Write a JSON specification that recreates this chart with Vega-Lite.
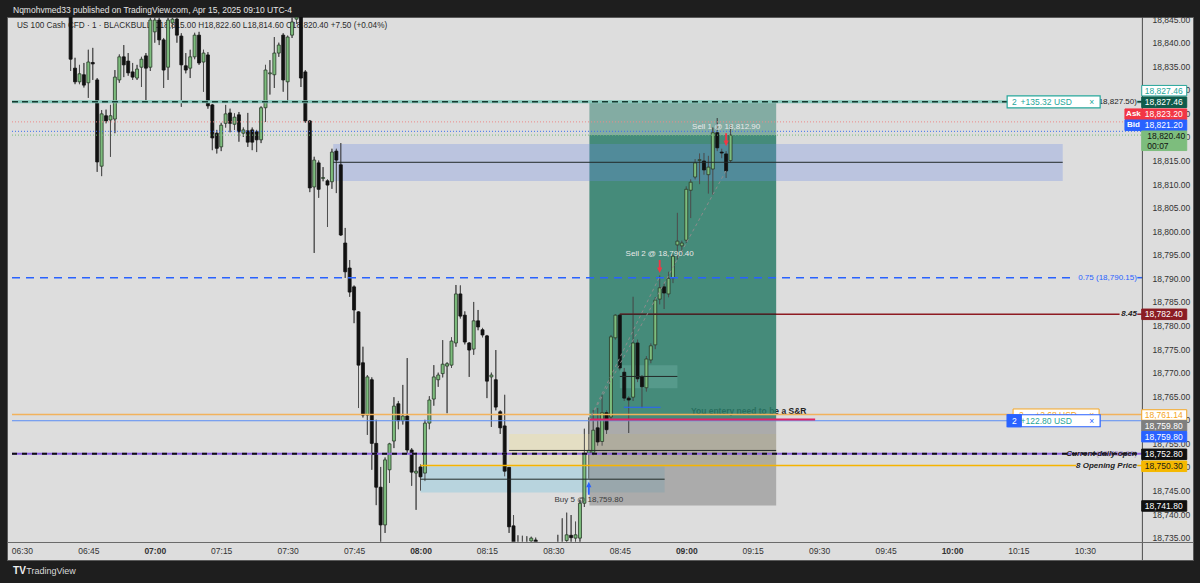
{
"$schema": "https://vega.github.io/schema/vega-lite/v6.json",
"width": 1186, "height": 543,
"autosize": {"type": "none"},
"padding": {"left": 7, "top": 17, "right": 7, "bottom": 23},
"background": "#1e1e1e",
"config": {"view": {"fill": "#dddddd", "stroke": "#5a5a5a", "strokeWidth": 1}, "font": "Liberation Sans", "text": {"font": "Liberation Sans"}, "axis": {"labelFont": "Liberation Sans", "grid": false, "ticks": false}},
"resolve": {"scale": {"fill": "independent", "stroke": "independent", "color": "independent"}, "axis": {"x": "independent", "y": "independent"}},
"datasets": {
"candles": [
{"t":"2025-04-15T06:41","o":18846.0,"h":18848.5,"l":18834.0,"c":18836.5},
{"t":"2025-04-15T06:42","o":18834.6,"h":18836.8,"l":18831.2,"c":18831.7},
{"t":"2025-04-15T06:43","o":18831.7,"h":18835.3,"l":18831.2,"c":18833.4},
{"t":"2025-04-15T06:44","o":18833.2,"h":18835.7,"l":18830.5,"c":18831.0},
{"t":"2025-04-15T06:45","o":18831.5,"h":18838.5,"l":18828.3,"c":18835.9},
{"t":"2025-04-15T06:46","o":18835.8,"h":18838.9,"l":18832.1,"c":18835.5},
{"t":"2025-04-15T06:47","o":18832.1,"h":18832.5,"l":18812.6,"c":18814.7},
{"t":"2025-04-15T06:48","o":18813.8,"h":18825.7,"l":18811.7,"c":18824.9},
{"t":"2025-04-15T06:49","o":18824.5,"h":18825.8,"l":18822.9,"c":18823.4},
{"t":"2025-04-15T06:50","o":18823.6,"h":18826.8,"l":18815.8,"c":18824.5},
{"t":"2025-04-15T06:51","o":18823.8,"h":18834.2,"l":18820.8,"c":18832.7},
{"t":"2025-04-15T06:52","o":18832.1,"h":18837.5,"l":18831.5,"c":18837.0},
{"t":"2025-04-15T06:53","o":18837.0,"h":18839.5,"l":18832.7,"c":18835.3},
{"t":"2025-04-15T06:54","o":18836.1,"h":18837.8,"l":18833.0,"c":18833.6},
{"t":"2025-04-15T06:55","o":18833.8,"h":18835.7,"l":18832.1,"c":18832.7},
{"t":"2025-04-15T06:56","o":18832.5,"h":18835.3,"l":18832.1,"c":18834.4},
{"t":"2025-04-15T06:57","o":18834.8,"h":18837.0,"l":18830.6,"c":18836.5},
{"t":"2025-04-15T06:58","o":18837.2,"h":18837.8,"l":18827.8,"c":18834.6},
{"t":"2025-04-15T06:59","o":18834.8,"h":18847.0,"l":18834.0,"c":18844.8},
{"t":"2025-04-15T07:00","o":18842.3,"h":18846.5,"l":18840.0,"c":18844.8},
{"t":"2025-04-15T07:01","o":18844.8,"h":18846.0,"l":18839.5,"c":18840.6},
{"t":"2025-04-15T07:02","o":18840.6,"h":18841.0,"l":18830.4,"c":18834.2},
{"t":"2025-04-15T07:03","o":18834.8,"h":18846.0,"l":18832.1,"c":18844.8},
{"t":"2025-04-15T07:04","o":18844.2,"h":18846.0,"l":18843.0,"c":18845.0},
{"t":"2025-04-15T07:05","o":18845.0,"h":18846.5,"l":18840.0,"c":18841.6},
{"t":"2025-04-15T07:06","o":18841.4,"h":18842.0,"l":18826.4,"c":18835.3},
{"t":"2025-04-15T07:07","o":18835.1,"h":18837.8,"l":18833.5,"c":18834.2},
{"t":"2025-04-15T07:08","o":18834.6,"h":18838.5,"l":18832.5,"c":18837.0},
{"t":"2025-04-15T07:09","o":18837.0,"h":18842.1,"l":18836.5,"c":18841.6},
{"t":"2025-04-15T07:10","o":18841.6,"h":18842.3,"l":18835.3,"c":18835.7},
{"t":"2025-04-15T07:11","o":18835.9,"h":18838.5,"l":18829.6,"c":18837.8},
{"t":"2025-04-15T07:12","o":18837.4,"h":18838.0,"l":18826.0,"c":18826.6},
{"t":"2025-04-15T07:13","o":18826.8,"h":18827.0,"l":18817.2,"c":18819.8},
{"t":"2025-04-15T07:14","o":18820.8,"h":18821.5,"l":18816.5,"c":18817.6},
{"t":"2025-04-15T07:15","o":18817.9,"h":18823.0,"l":18817.0,"c":18822.5},
{"t":"2025-04-15T07:16","o":18822.9,"h":18826.8,"l":18822.0,"c":18824.9},
{"t":"2025-04-15T07:17","o":18825.1,"h":18826.0,"l":18821.0,"c":18822.9},
{"t":"2025-04-15T07:18","o":18822.7,"h":18825.0,"l":18821.5,"c":18824.2},
{"t":"2025-04-15T07:19","o":18824.7,"h":18825.3,"l":18819.0,"c":18821.1},
{"t":"2025-04-15T07:20","o":18820.8,"h":18822.0,"l":18820.0,"c":18821.5},
{"t":"2025-04-15T07:21","o":18821.3,"h":18825.1,"l":18817.9,"c":18818.9},
{"t":"2025-04-15T07:22","o":18821.5,"h":18822.0,"l":18817.2,"c":18818.9},
{"t":"2025-04-15T07:23","o":18821.1,"h":18821.5,"l":18816.8,"c":18819.4},
{"t":"2025-04-15T07:24","o":18819.4,"h":18826.5,"l":18818.7,"c":18826.2},
{"t":"2025-04-15T07:25","o":18826.2,"h":18835.3,"l":18823.2,"c":18834.2},
{"t":"2025-04-15T07:26","o":18833.4,"h":18836.3,"l":18829.0,"c":18833.6},
{"t":"2025-04-15T07:27","o":18833.2,"h":18841.2,"l":18830.4,"c":18837.8},
{"t":"2025-04-15T07:28","o":18837.8,"h":18840.0,"l":18837.0,"c":18839.5},
{"t":"2025-04-15T07:29","o":18841.6,"h":18842.0,"l":18829.6,"c":18832.1},
{"t":"2025-04-15T07:30","o":18831.7,"h":18841.5,"l":18827.4,"c":18841.2},
{"t":"2025-04-15T07:31","o":18841.6,"h":18846.0,"l":18841.0,"c":18844.4},
{"t":"2025-04-15T07:32","o":18845.0,"h":18846.5,"l":18844.0,"c":18845.4},
{"t":"2025-04-15T07:33","o":18845.5,"h":18847.0,"l":18830.6,"c":18832.5},
{"t":"2025-04-15T07:34","o":18833.8,"h":18834.2,"l":18823.0,"c":18823.4},
{"t":"2025-04-15T07:35","o":18823.4,"h":18823.6,"l":18808.3,"c":18809.2},
{"t":"2025-04-15T07:36","o":18809.4,"h":18815.8,"l":18795.4,"c":18815.1},
{"t":"2025-04-15T07:37","o":18814.5,"h":18815.0,"l":18807.1,"c":18808.9},
{"t":"2025-04-15T07:38","o":18811.2,"h":18813.6,"l":18810.6,"c":18811.4},
{"t":"2025-04-15T07:39","o":18810.7,"h":18811.0,"l":18800.9,"c":18809.8},
{"t":"2025-04-15T07:40","o":18810.5,"h":18817.5,"l":18809.0,"c":18816.8},
{"t":"2025-04-15T07:41","o":18817.0,"h":18817.5,"l":18808.1,"c":18815.1},
{"t":"2025-04-15T07:42","o":18814.1,"h":18818.7,"l":18799.0,"c":18799.2},
{"t":"2025-04-15T07:43","o":18797.5,"h":18800.7,"l":18790.1,"c":18791.4},
{"t":"2025-04-15T07:44","o":18792.2,"h":18793.9,"l":18786.1,"c":18787.1},
{"t":"2025-04-15T07:45","o":18788.2,"h":18788.5,"l":18780.5,"c":18783.3},
{"t":"2025-04-15T07:46","o":18782.9,"h":18783.0,"l":18762.5,"c":18771.6},
{"t":"2025-04-15T07:47","o":18772.1,"h":18775.5,"l":18760.5,"c":18761.0},
{"t":"2025-04-15T07:48","o":18761.0,"h":18769.5,"l":18756.8,"c":18769.1},
{"t":"2025-04-15T07:49","o":18768.5,"h":18769.0,"l":18749.4,"c":18755.0},
{"t":"2025-04-15T07:50","o":18755.0,"h":18760.0,"l":18741.9,"c":18745.7},
{"t":"2025-04-15T07:51","o":18745.7,"h":18750.0,"l":18734.0,"c":18737.7},
{"t":"2025-04-15T07:52","o":18737.7,"h":18752.0,"l":18736.0,"c":18751.5},
{"t":"2025-04-15T07:53","o":18749.4,"h":18755.1,"l":18746.6,"c":18754.9},
{"t":"2025-04-15T07:54","o":18755.5,"h":18764.8,"l":18754.0,"c":18762.9},
{"t":"2025-04-15T07:55","o":18763.4,"h":18764.0,"l":18758.0,"c":18759.8},
{"t":"2025-04-15T07:56","o":18759.8,"h":18767.4,"l":18759.0,"c":18760.8},
{"t":"2025-04-15T07:57","o":18760.8,"h":18773.1,"l":18753.0,"c":18753.6},
{"t":"2025-04-15T07:58","o":18753.6,"h":18754.0,"l":18746.0,"c":18748.9},
{"t":"2025-04-15T07:59","o":18748.7,"h":18753.0,"l":18740.9,"c":18749.1},
{"t":"2025-04-15T08:00","o":18750.0,"h":18750.5,"l":18745.0,"c":18747.9},
{"t":"2025-04-15T08:01","o":18748.7,"h":18760.0,"l":18747.0,"c":18759.3},
{"t":"2025-04-15T08:02","o":18759.3,"h":18765.0,"l":18758.0,"c":18764.2},
{"t":"2025-04-15T08:03","o":18764.4,"h":18771.6,"l":18763.0,"c":18769.1},
{"t":"2025-04-15T08:04","o":18768.5,"h":18770.0,"l":18767.0,"c":18769.5},
{"t":"2025-04-15T08:05","o":18769.8,"h":18776.9,"l":18769.0,"c":18771.8},
{"t":"2025-04-15T08:06","o":18771.4,"h":18772.2,"l":18761.4,"c":18771.9},
{"t":"2025-04-15T08:07","o":18771.6,"h":18777.5,"l":18771.0,"c":18776.7},
{"t":"2025-04-15T08:08","o":18776.3,"h":18788.6,"l":18775.5,"c":18786.7},
{"t":"2025-04-15T08:09","o":18786.7,"h":18788.5,"l":18781.5,"c":18782.0},
{"t":"2025-04-15T08:10","o":18782.2,"h":18783.0,"l":18776.0,"c":18776.5},
{"t":"2025-04-15T08:11","o":18776.3,"h":18776.5,"l":18769.1,"c":18774.8},
{"t":"2025-04-15T08:12","o":18775.0,"h":18785.0,"l":18773.8,"c":18781.0},
{"t":"2025-04-15T08:13","o":18781.0,"h":18783.3,"l":18779.0,"c":18779.7},
{"t":"2025-04-15T08:14","o":18779.1,"h":18779.5,"l":18777.5,"c":18778.0},
{"t":"2025-04-15T08:15","o":18777.8,"h":18778.0,"l":18764.6,"c":18768.2},
{"t":"2025-04-15T08:16","o":18769.1,"h":18770.0,"l":18758.5,"c":18769.5},
{"t":"2025-04-15T08:17","o":18768.5,"h":18774.8,"l":18762.0,"c":18762.7},
{"t":"2025-04-15T08:18","o":18761.7,"h":18762.0,"l":18757.0,"c":18758.3},
{"t":"2025-04-15T08:19","o":18758.7,"h":18765.3,"l":18748.0,"c":18749.1},
{"t":"2025-04-15T08:20","o":18749.9,"h":18750.0,"l":18736.0,"c":18737.3},
{"t":"2025-04-15T08:21","o":18737.5,"h":18739.8,"l":18731.0,"c":18732.5},
{"t":"2025-04-15T08:22","o":18733.0,"h":18735.5,"l":18728.0,"c":18731.0},
{"t":"2025-04-15T08:23","o":18731.5,"h":18735.4,"l":18729.0,"c":18733.0},
{"t":"2025-04-15T08:24","o":18733.0,"h":18735.3,"l":18729.0,"c":18732.0},
{"t":"2025-04-15T08:25","o":18734.3,"h":18735.2,"l":18732.0,"c":18734.9},
{"t":"2025-04-15T08:26","o":18734.5,"h":18735.0,"l":18731.0,"c":18733.5},
{"t":"2025-04-15T08:27","o":18733.0,"h":18733.5,"l":18729.0,"c":18730.5},
{"t":"2025-04-15T08:28","o":18730.5,"h":18732.5,"l":18728.5,"c":18731.5},
{"t":"2025-04-15T08:29","o":18731.5,"h":18733.0,"l":18729.5,"c":18730.0},
{"t":"2025-04-15T08:30","o":18730.0,"h":18733.5,"l":18729.0,"c":18732.5},
{"t":"2025-04-15T08:31","o":18732.0,"h":18735.6,"l":18730.0,"c":18733.8},
{"t":"2025-04-15T08:32","o":18733.8,"h":18739.1,"l":18731.0,"c":18733.0},
{"t":"2025-04-15T08:33","o":18734.4,"h":18740.3,"l":18733.0,"c":18735.6},
{"t":"2025-04-15T08:34","o":18735.5,"h":18739.8,"l":18733.0,"c":18735.0},
{"t":"2025-04-15T08:35","o":18734.9,"h":18738.4,"l":18734.0,"c":18735.6},
{"t":"2025-04-15T08:36","o":18734.9,"h":18743.0,"l":18734.0,"c":18742.3},
{"t":"2025-04-15T08:37","o":18742.3,"h":18758.1,"l":18741.5,"c":18752.9},
{"t":"2025-04-15T08:38","o":18752.9,"h":18760.5,"l":18747.5,"c":18753.5},
{"t":"2025-04-15T08:39","o":18753.0,"h":18762.1,"l":18752.5,"c":18757.8},
{"t":"2025-04-15T08:40","o":18758.3,"h":18762.5,"l":18754.5,"c":18755.3},
{"t":"2025-04-15T08:41","o":18755.4,"h":18765.3,"l":18754.5,"c":18761.5},
{"t":"2025-04-15T08:42","o":18761.5,"h":18762.0,"l":18757.0,"c":18757.9},
{"t":"2025-04-15T08:43","o":18760.6,"h":18778.0,"l":18760.0,"c":18777.6},
{"t":"2025-04-15T08:44","o":18777.4,"h":18782.4,"l":18777.0,"c":18782.2},
{"t":"2025-04-15T08:45","o":18782.2,"h":18782.4,"l":18770.5,"c":18771.0},
{"t":"2025-04-15T08:46","o":18770.1,"h":18771.0,"l":18764.0,"c":18764.6},
{"t":"2025-04-15T08:47","o":18764.6,"h":18765.0,"l":18757.2,"c":18764.2},
{"t":"2025-04-15T08:48","o":18764.8,"h":18786.1,"l":18764.0,"c":18776.3},
{"t":"2025-04-15T08:49","o":18776.3,"h":18777.0,"l":18768.0,"c":18768.7},
{"t":"2025-04-15T08:50","o":18769.1,"h":18769.5,"l":18762.5,"c":18767.0},
{"t":"2025-04-15T08:51","o":18766.8,"h":18773.5,"l":18766.0,"c":18772.9},
{"t":"2025-04-15T08:52","o":18772.7,"h":18776.2,"l":18772.0,"c":18775.7},
{"t":"2025-04-15T08:53","o":18775.9,"h":18786.0,"l":18775.0,"c":18785.4},
{"t":"2025-04-15T08:54","o":18785.6,"h":18790.6,"l":18784.5,"c":18788.0},
{"t":"2025-04-15T08:55","o":18788.2,"h":18789.0,"l":18783.5,"c":18786.9},
{"t":"2025-04-15T08:56","o":18786.7,"h":18791.4,"l":18786.0,"c":18790.0},
{"t":"2025-04-15T08:57","o":18790.1,"h":18795.0,"l":18789.0,"c":18794.7},
{"t":"2025-04-15T08:58","o":18797.1,"h":18803.9,"l":18794.0,"c":18797.9},
{"t":"2025-04-15T08:59","o":18796.9,"h":18798.0,"l":18795.0,"c":18797.5},
{"t":"2025-04-15T09:00","o":18798.1,"h":18809.5,"l":18797.5,"c":18808.9},
{"t":"2025-04-15T09:01","o":18808.7,"h":18811.0,"l":18802.8,"c":18810.4},
{"t":"2025-04-15T09:02","o":18811.5,"h":18815.3,"l":18811.0,"c":18814.5},
{"t":"2025-04-15T09:03","o":18815.0,"h":18816.5,"l":18810.0,"c":18815.2},
{"t":"2025-04-15T09:04","o":18814.9,"h":18816.6,"l":18812.0,"c":18813.0},
{"t":"2025-04-15T09:05","o":18812.0,"h":18816.0,"l":18808.0,"c":18813.6},
{"t":"2025-04-15T09:06","o":18813.2,"h":18822.0,"l":18807.7,"c":18820.9},
{"t":"2025-04-15T09:07","o":18820.9,"h":18824.0,"l":18817.0,"c":18817.7},
{"t":"2025-04-15T09:08","o":18816.8,"h":18817.5,"l":18815.5,"c":18816.6},
{"t":"2025-04-15T09:09","o":18816.4,"h":18817.0,"l":18811.3,"c":18812.8},
{"t":"2025-04-15T09:10","o":18815.0,"h":18822.6,"l":18814.6,"c":18820.4}
]},
"layer": [
{"data":{"name":"candles"},
 "mark":{"type":"rule","color":"#505050","strokeWidth":1,"clip":true},
 "encoding":{"x":{"field":"t","type":"temporal","scale":{"domain":[{"year":2025,"month":4,"date":15,"hours":6,"minutes":27,"seconds":46},{"year":2025,"month":4,"date":15,"hours":10,"minutes":53,"seconds":17}]},
   "axis":{"orient":"bottom","offset":-18,"values":[{"year":2025,"month":4,"date":15,"hours":6,"minutes":30},{"year":2025,"month":4,"date":15,"hours":6,"minutes":45},{"year":2025,"month":4,"date":15,"hours":7,"minutes":0},{"year":2025,"month":4,"date":15,"hours":7,"minutes":15},{"year":2025,"month":4,"date":15,"hours":7,"minutes":30},{"year":2025,"month":4,"date":15,"hours":7,"minutes":45},{"year":2025,"month":4,"date":15,"hours":8,"minutes":0},{"year":2025,"month":4,"date":15,"hours":8,"minutes":15},{"year":2025,"month":4,"date":15,"hours":8,"minutes":30},{"year":2025,"month":4,"date":15,"hours":8,"minutes":45},{"year":2025,"month":4,"date":15,"hours":9,"minutes":0},{"year":2025,"month":4,"date":15,"hours":9,"minutes":15},{"year":2025,"month":4,"date":15,"hours":9,"minutes":30},{"year":2025,"month":4,"date":15,"hours":9,"minutes":45},{"year":2025,"month":4,"date":15,"hours":10,"minutes":0},{"year":2025,"month":4,"date":15,"hours":10,"minutes":15},{"year":2025,"month":4,"date":15,"hours":10,"minutes":30}],"format":"%H:%M","labelFontWeight":{"condition":{"test":"minutes(datum.value) === 0","value":"bold"},"value":"normal"},"grid":false,"ticks":false,"tickSize":0,"labelPadding":4,"labelFontSize":8.5,"labelColor":"#333333","domainColor":"#6a6a6a","title":null,"labelFlush":false,"labelOverlap":false,"zindex":1}},
  "y":{"field":"l","type":"quantitative","scale":{"domain":[18730.26,18845.45],"nice":false,"zero":false},
   "axis":{"orient":"right","offset":-46,"values":[18735,18740,18745,18750,18755,18760,18765,18770,18775,18780,18785,18790,18795,18800,18805,18810,18815,18820,18825,18830,18835,18840,18845],"format":",.2f","grid":false,"ticks":false,"tickSize":0,"domain":false,"labelPadding":5,"labelAlign":"left","labelBaseline":"middle","labelFontSize":8.5,"labelColor":"#333333","title":null,"labelOverlap":false,"labelFlush":false,"zindex":0}},
  "y2":{"field":"h"}}},
{"data":{"values":[{"t":"2025-04-15T06:28:53","p":18843.54,"label":"US 100 Cash CFD · 1 · BLACKBULL   O18,815.00  H18,822.60  L18,814.60  C18,820.40  +7.50 (+0.04%)"}]},
 "mark":{"type":"text","fontSize":8.2,"color":"#2b2b2b","baseline":"middle","align":"left"},
 "encoding":{"x":{"field":"t","type":"temporal","scale":{"domain":[{"year":2025,"month":4,"date":15,"hours":6,"minutes":27,"seconds":46},{"year":2025,"month":4,"date":15,"hours":10,"minutes":53,"seconds":17}]},"axis":null},"y":{"field":"p","type":"quantitative","scale":{"domain":[18730.26,18845.45],"nice":false,"zero":false},"axis":null},"text":{"field":"label"}}},
{"data":{"values":[{"t":"2025-04-15T09:01:03","p":18761.87,"label":"You entery need to be a S&R"}]},
 "mark":{"type":"text","align":"left","baseline":"middle","fontSize":8.5,"fontWeight":"bold","color":"#222222"},
 "encoding":{"x":{"field":"t","type":"temporal","scale":{"domain":[{"year":2025,"month":4,"date":15,"hours":6,"minutes":27,"seconds":46},{"year":2025,"month":4,"date":15,"hours":10,"minutes":53,"seconds":17}]},"axis":null},"y":{"field":"p","type":"quantitative","scale":{"domain":[18730.26,18845.45],"nice":false,"zero":false},"axis":null},"text":{"field":"label"}}},
{"data":{"values":[{"t":"2025-04-15T08:20:00","t2":"2025-04-15T09:20:18","p":18750.1,"p2":18757.0}],"format":{"parse":{"t":"date","t2":"date"}}},
 "mark":{"type":"rect","fill":"#e4dec3"},
 "encoding":{"x":{"field":"t","type":"temporal","scale":{"domain":[{"year":2025,"month":4,"date":15,"hours":6,"minutes":27,"seconds":46},{"year":2025,"month":4,"date":15,"hours":10,"minutes":53,"seconds":17}]},"axis":null},"x2":{"field":"t2"},"y":{"field":"p","type":"quantitative","scale":{"domain":[18730.26,18845.45],"nice":false,"zero":false},"axis":null},"y2":{"field":"p2"}}},
{"data":{"values":[{"t":"2025-04-15T08:00:00","t2":"2025-04-15T08:55:07","p":18744.6,"p2":18750.1}],"format":{"parse":{"t":"date","t2":"date"}}},
 "mark":{"type":"rect","fill":"#b8d4de"},
 "encoding":{"x":{"field":"t","type":"temporal","scale":{"domain":[{"year":2025,"month":4,"date":15,"hours":6,"minutes":27,"seconds":46},{"year":2025,"month":4,"date":15,"hours":10,"minutes":53,"seconds":17}]},"axis":null},"x2":{"field":"t2"},"y":{"field":"p","type":"quantitative","scale":{"domain":[18730.26,18845.45],"nice":false,"zero":false},"axis":null},"y2":{"field":"p2"}}},
{"data":{"values":[{"t":"2025-04-15T08:38:08","t2":"2025-04-15T09:20:18","p":18741.8,"p2":18759.8}],"format":{"parse":{"t":"date","t2":"date"}}},
 "mark":{"type":"rect","fill":"#7a7a7a","fillOpacity":0.5},
 "encoding":{"x":{"field":"t","type":"temporal","scale":{"domain":[{"year":2025,"month":4,"date":15,"hours":6,"minutes":27,"seconds":46},{"year":2025,"month":4,"date":15,"hours":10,"minutes":53,"seconds":17}]},"axis":null},"x2":{"field":"t2"},"y":{"field":"p","type":"quantitative","scale":{"domain":[18730.26,18845.45],"nice":false,"zero":false},"axis":null},"y2":{"field":"p2"}}},
{"data":{"values":[{"t":"2025-04-15T08:38:08","t2":"2025-04-15T09:20:18","p":18820.4,"p2":18827.5}],"format":{"parse":{"t":"date","t2":"date"}}},
 "mark":{"type":"rect","fill":"#2a7c69","fillOpacity":0.5},
 "encoding":{"x":{"field":"t","type":"temporal","scale":{"domain":[{"year":2025,"month":4,"date":15,"hours":6,"minutes":27,"seconds":46},{"year":2025,"month":4,"date":15,"hours":10,"minutes":53,"seconds":17}]},"axis":null},"x2":{"field":"t2"},"y":{"field":"p","type":"quantitative","scale":{"domain":[18730.26,18845.45],"nice":false,"zero":false},"axis":null},"y2":{"field":"p2"}}},
{"data":{"values":[{"t":"2025-04-15T08:38:08","t2":"2025-04-15T09:20:18","p":18759.8,"p2":18820.4}],"format":{"parse":{"t":"date","t2":"date"}}},
 "mark":{"type":"rect","fill":"#2a7c69","fillOpacity":0.85},
 "encoding":{"x":{"field":"t","type":"temporal","scale":{"domain":[{"year":2025,"month":4,"date":15,"hours":6,"minutes":27,"seconds":46},{"year":2025,"month":4,"date":15,"hours":10,"minutes":53,"seconds":17}]},"axis":null},"x2":{"field":"t2"},"y":{"field":"p","type":"quantitative","scale":{"domain":[18730.26,18845.45],"nice":false,"zero":false},"axis":null},"y2":{"field":"p2"}}},
{"data":{"values":[{"t":"2025-04-15T08:45:00","t2":"2025-04-15T08:58:00","p":18766.7,"p2":18771.6}],"format":{"parse":{"t":"date","t2":"date"}}},
 "mark":{"type":"rect","fill":"#8cc8c0","fillOpacity":0.25},
 "encoding":{"x":{"field":"t","type":"temporal","scale":{"domain":[{"year":2025,"month":4,"date":15,"hours":6,"minutes":27,"seconds":46},{"year":2025,"month":4,"date":15,"hours":10,"minutes":53,"seconds":17}]},"axis":null},"x2":{"field":"t2"},"y":{"field":"p","type":"quantitative","scale":{"domain":[18730.26,18845.45],"nice":false,"zero":false},"axis":null},"y2":{"field":"p2"}}},
{"data":{"values":[{"t":"2025-04-15T07:40:18","t2":"2025-04-15T10:25:00","p":18810.66,"p2":18818.51}],"format":{"parse":{"t":"date","t2":"date"}}},
 "mark":{"type":"rect","fill":"#6e8ce6","fillOpacity":0.3},
 "encoding":{"x":{"field":"t","type":"temporal","scale":{"domain":[{"year":2025,"month":4,"date":15,"hours":6,"minutes":27,"seconds":46},{"year":2025,"month":4,"date":15,"hours":10,"minutes":53,"seconds":17}]},"axis":null},"x2":{"field":"t2"},"y":{"field":"p","type":"quantitative","scale":{"domain":[18730.26,18845.45],"nice":false,"zero":false},"axis":null},"y2":{"field":"p2"}}},
{"data":{"name":"candles"},
 "mark":{"type":"rule","color":"#505050","strokeWidth":1,"clip":true},
 "encoding":{"x":{"field":"t","type":"temporal","scale":{"domain":[{"year":2025,"month":4,"date":15,"hours":6,"minutes":27,"seconds":46},{"year":2025,"month":4,"date":15,"hours":10,"minutes":53,"seconds":17}]},"axis":null},
  "y":{"field":"l","type":"quantitative","scale":{"domain":[18730.26,18845.45],"nice":false,"zero":false},"axis":null},"y2":{"field":"h"}}},
{"data":{"name":"candles"},
 "mark":{"type":"bar","width":3,"strokeWidth":0.8,"clip":true},
 "encoding":{"x":{"field":"t","type":"temporal","scale":{"domain":[{"year":2025,"month":4,"date":15,"hours":6,"minutes":27,"seconds":46},{"year":2025,"month":4,"date":15,"hours":10,"minutes":53,"seconds":17}]},"axis":null},
  "y":{"field":"o","type":"quantitative","scale":{"domain":[18730.26,18845.45],"nice":false,"zero":false},"axis":null},"y2":{"field":"c"},
  "fill":{"condition":{"test":"datum.c >= datum.o","value":"#7dbd7d"},"value":"#111111"},
  "stroke":{"condition":{"test":"datum.c >= datum.o","value":"#2a3a2a"},"value":"#111111"}}},
{"data":{"values":[{"t":"2025-04-15T06:27:46","t2":"2025-04-15T10:53:17","p":18730.26,"p2":18734.15}],"format":{"parse":{"t":"date","t2":"date"}}},
 "mark":{"type":"rect","fill":"#dddddd"},
 "encoding":{"x":{"field":"t","type":"temporal","scale":{"domain":[{"year":2025,"month":4,"date":15,"hours":6,"minutes":27,"seconds":46},{"year":2025,"month":4,"date":15,"hours":10,"minutes":53,"seconds":17}]},"axis":null},"x2":{"field":"t2"},"y":{"field":"p","type":"quantitative","scale":{"domain":[18730.26,18845.45],"nice":false,"zero":false},"axis":null},"y2":{"field":"p2"}}},
{"data":{"values":[{"t":"2025-04-15T06:27:46","t2":"2025-04-15T10:33:22","p":18827.46},{"t":"2025-04-15T10:41:50","t2":"2025-04-15T10:42:59","p":18827.46}],"format":{"parse":{"t":"date","t2":"date"}}},
 "mark":{"type":"rule","color":"#86c8bb","strokeWidth":3},
 "encoding":{"x":{"field":"t","type":"temporal","scale":{"domain":[{"year":2025,"month":4,"date":15,"hours":6,"minutes":27,"seconds":46},{"year":2025,"month":4,"date":15,"hours":10,"minutes":53,"seconds":17}]},"axis":null},"x2":{"field":"t2"},"y":{"field":"p","type":"quantitative","scale":{"domain":[18730.26,18845.45],"nice":false,"zero":false},"axis":null}}},
{"data":{"values":[{"t":"2025-04-15T06:27:46","t2":"2025-04-15T10:33:22","p":18827.46},{"t":"2025-04-15T10:41:50","t2":"2025-04-15T10:42:59","p":18827.46}],"format":{"parse":{"t":"date","t2":"date"}}},
 "mark":{"type":"rule","color":"#15392f","strokeWidth":1.5,"strokeDash":[6,4]},
 "encoding":{"x":{"field":"t","type":"temporal","scale":{"domain":[{"year":2025,"month":4,"date":15,"hours":6,"minutes":27,"seconds":46},{"year":2025,"month":4,"date":15,"hours":10,"minutes":53,"seconds":17}]},"axis":null},"x2":{"field":"t2"},"y":{"field":"p","type":"quantitative","scale":{"domain":[18730.26,18845.45],"nice":false,"zero":false},"axis":null}}},
{"data":{"values":[{"t":"2025-04-15T06:27:46","t2":"2025-04-15T10:42:59","p":18823.2}],"format":{"parse":{"t":"date","t2":"date"}}},
 "mark":{"type":"rule","color":"#ee8888","strokeWidth":1,"strokeDash":[1,2]},
 "encoding":{"x":{"field":"t","type":"temporal","scale":{"domain":[{"year":2025,"month":4,"date":15,"hours":6,"minutes":27,"seconds":46},{"year":2025,"month":4,"date":15,"hours":10,"minutes":53,"seconds":17}]},"axis":null},"x2":{"field":"t2"},"y":{"field":"p","type":"quantitative","scale":{"domain":[18730.26,18845.45],"nice":false,"zero":false},"axis":null}}},
{"data":{"values":[{"t":"2025-04-15T06:27:46","t2":"2025-04-15T10:42:59","p":18821.2}],"format":{"parse":{"t":"date","t2":"date"}}},
 "mark":{"type":"rule","color":"#3b6ef0","strokeWidth":1,"strokeDash":[1,2]},
 "encoding":{"x":{"field":"t","type":"temporal","scale":{"domain":[{"year":2025,"month":4,"date":15,"hours":6,"minutes":27,"seconds":46},{"year":2025,"month":4,"date":15,"hours":10,"minutes":53,"seconds":17}]},"axis":null},"x2":{"field":"t2"},"y":{"field":"p","type":"quantitative","scale":{"domain":[18730.26,18845.45],"nice":false,"zero":false},"axis":null}}},
{"data":{"values":[{"t":"2025-04-15T06:27:46","t2":"2025-04-15T10:42:59","p":18820.4}],"format":{"parse":{"t":"date","t2":"date"}}},
 "mark":{"type":"rule","color":"#77bb77","strokeWidth":1,"strokeDash":[1,2]},
 "encoding":{"x":{"field":"t","type":"temporal","scale":{"domain":[{"year":2025,"month":4,"date":15,"hours":6,"minutes":27,"seconds":46},{"year":2025,"month":4,"date":15,"hours":10,"minutes":53,"seconds":17}]},"axis":null},"x2":{"field":"t2"},"y":{"field":"p","type":"quantitative","scale":{"domain":[18730.26,18845.45],"nice":false,"zero":false},"axis":null}}},
{"data":{"values":[{"t":"2025-04-15T06:27:46","t2":"2025-04-15T10:28:00","p":18790.15},{"t":"2025-04-15T10:41:50","t2":"2025-04-15T10:42:59","p":18790.15}],"format":{"parse":{"t":"date","t2":"date"}}},
 "mark":{"type":"rule","color":"#2962ff","strokeWidth":1.5,"strokeDash":[8,6]},
 "encoding":{"x":{"field":"t","type":"temporal","scale":{"domain":[{"year":2025,"month":4,"date":15,"hours":6,"minutes":27,"seconds":46},{"year":2025,"month":4,"date":15,"hours":10,"minutes":53,"seconds":17}]},"axis":null},"x2":{"field":"t2"},"y":{"field":"p","type":"quantitative","scale":{"domain":[18730.26,18845.45],"nice":false,"zero":false},"axis":null}}},
{"data":{"values":[{"t":"2025-04-15T08:45:00","t2":"2025-04-15T10:37:50","p":18782.4},{"t":"2025-04-15T10:41:50","t2":"2025-04-15T10:42:59","p":18782.4}],"format":{"parse":{"t":"date","t2":"date"}}},
 "mark":{"type":"rule","color":"#8e1b22","strokeWidth":1.5},
 "encoding":{"x":{"field":"t","type":"temporal","scale":{"domain":[{"year":2025,"month":4,"date":15,"hours":6,"minutes":27,"seconds":46},{"year":2025,"month":4,"date":15,"hours":10,"minutes":53,"seconds":17}]},"axis":null},"x2":{"field":"t2"},"y":{"field":"p","type":"quantitative","scale":{"domain":[18730.26,18845.45],"nice":false,"zero":false},"axis":null}}},
{"data":{"values":[{"t":"2025-04-15T06:27:46","t2":"2025-04-15T10:42:59","p":18761.14}],"format":{"parse":{"t":"date","t2":"date"}}},
 "mark":{"type":"rule","color":"#f2b25c","strokeWidth":1.5},
 "encoding":{"x":{"field":"t","type":"temporal","scale":{"domain":[{"year":2025,"month":4,"date":15,"hours":6,"minutes":27,"seconds":46},{"year":2025,"month":4,"date":15,"hours":10,"minutes":53,"seconds":17}]},"axis":null},"x2":{"field":"t2"},"y":{"field":"p","type":"quantitative","scale":{"domain":[18730.26,18845.45],"nice":false,"zero":false},"axis":null}}},
{"data":{"values":[{"t":"2025-04-15T06:27:46","t2":"2025-04-15T10:42:59","p":18759.8}],"format":{"parse":{"t":"date","t2":"date"}}},
 "mark":{"type":"rule","color":"#5b8ef5","strokeWidth":1},
 "encoding":{"x":{"field":"t","type":"temporal","scale":{"domain":[{"year":2025,"month":4,"date":15,"hours":6,"minutes":27,"seconds":46},{"year":2025,"month":4,"date":15,"hours":10,"minutes":53,"seconds":17}]},"axis":null},"x2":{"field":"t2"},"y":{"field":"p","type":"quantitative","scale":{"domain":[18730.26,18845.45],"nice":false,"zero":false},"axis":null}}},
{"data":{"values":[{"t":"2025-04-15T08:38:08","t2":"2025-04-15T09:29:06","p":18760.05}],"format":{"parse":{"t":"date","t2":"date"}}},
 "mark":{"type":"rule","color":"#e02562","strokeWidth":2},
 "encoding":{"x":{"field":"t","type":"temporal","scale":{"domain":[{"year":2025,"month":4,"date":15,"hours":6,"minutes":27,"seconds":46},{"year":2025,"month":4,"date":15,"hours":10,"minutes":53,"seconds":17}]},"axis":null},"x2":{"field":"t2"},"y":{"field":"p","type":"quantitative","scale":{"domain":[18730.26,18845.45],"nice":false,"zero":false},"axis":null}}},
{"data":{"values":[{"t":"2025-04-15T06:27:46","t2":"2025-04-15T10:42:59","p":18752.8}],"format":{"parse":{"t":"date","t2":"date"}}},
 "mark":{"type":"rule","color":"#8a5fe0","strokeWidth":2},
 "encoding":{"x":{"field":"t","type":"temporal","scale":{"domain":[{"year":2025,"month":4,"date":15,"hours":6,"minutes":27,"seconds":46},{"year":2025,"month":4,"date":15,"hours":10,"minutes":53,"seconds":17}]},"axis":null},"x2":{"field":"t2"},"y":{"field":"p","type":"quantitative","scale":{"domain":[18730.26,18845.45],"nice":false,"zero":false},"axis":null}}},
{"data":{"values":[{"t":"2025-04-15T06:27:46","t2":"2025-04-15T10:42:59","p":18752.8}],"format":{"parse":{"t":"date","t2":"date"}}},
 "mark":{"type":"rule","color":"#111111","strokeWidth":2,"strokeDash":[5,5]},
 "encoding":{"x":{"field":"t","type":"temporal","scale":{"domain":[{"year":2025,"month":4,"date":15,"hours":6,"minutes":27,"seconds":46},{"year":2025,"month":4,"date":15,"hours":10,"minutes":53,"seconds":17}]},"axis":null},"x2":{"field":"t2"},"y":{"field":"p","type":"quantitative","scale":{"domain":[18730.26,18845.45],"nice":false,"zero":false},"axis":null}}},
{"data":{"values":[{"t":"2025-04-15T08:00:00","t2":"2025-04-15T10:28:00","p":18750.3},{"t":"2025-04-15T10:41:50","t2":"2025-04-15T10:42:59","p":18750.3}],"format":{"parse":{"t":"date","t2":"date"}}},
 "mark":{"type":"rule","color":"#f5b400","strokeWidth":1.5},
 "encoding":{"x":{"field":"t","type":"temporal","scale":{"domain":[{"year":2025,"month":4,"date":15,"hours":6,"minutes":27,"seconds":46},{"year":2025,"month":4,"date":15,"hours":10,"minutes":53,"seconds":17}]},"axis":null},"x2":{"field":"t2"},"y":{"field":"p","type":"quantitative","scale":{"domain":[18730.26,18845.45],"nice":false,"zero":false},"axis":null}}},
{"data":{"values":[{"t":"2025-04-15T07:40:18","t2":"2025-04-15T10:25:00","p":18814.63},{"t":"2025-04-15T08:20:00","t2":"2025-04-15T09:20:18","p":18753.5},{"t":"2025-04-15T08:00:00","t2":"2025-04-15T08:55:07","p":18747.4},{"t":"2025-04-15T08:45:00","t2":"2025-04-15T08:58:00","p":18769.2},{"t":"2025-04-15T08:45:00","t2":"2025-04-15T09:20:18","p":18782.4}],"format":{"parse":{"t":"date","t2":"date"}}},
 "mark":{"type":"rule","color":"#222a28","strokeWidth":1},
 "encoding":{"x":{"field":"t","type":"temporal","scale":{"domain":[{"year":2025,"month":4,"date":15,"hours":6,"minutes":27,"seconds":46},{"year":2025,"month":4,"date":15,"hours":10,"minutes":53,"seconds":17}]},"axis":null},"x2":{"field":"t2"},"y":{"field":"p","type":"quantitative","scale":{"domain":[18730.26,18845.45],"nice":false,"zero":false},"axis":null}}},
{"data":{"values":[{"t":"2025-04-15T08:45:54","t2":"2025-04-15T08:54:12","p":18762.66}],"format":{"parse":{"t":"date","t2":"date"}}},
 "mark":{"type":"rule","color":"#2962ff","strokeWidth":1},
 "encoding":{"x":{"field":"t","type":"temporal","scale":{"domain":[{"year":2025,"month":4,"date":15,"hours":6,"minutes":27,"seconds":46},{"year":2025,"month":4,"date":15,"hours":10,"minutes":53,"seconds":17}]},"axis":null},"x2":{"field":"t2"},"y":{"field":"p","type":"quantitative","scale":{"domain":[18730.26,18845.45],"nice":false,"zero":false},"axis":null}}},
{"data":{"values":[{"t":"2025-04-15T08:38:00","t2":"2025-04-15T08:54:00","p":18759.8,"p2":18790.4},{"t":"2025-04-15T08:38:00","t2":"2025-04-15T09:09:00","p":18759.8,"p2":18812.9}],"format":{"parse":{"t":"date","t2":"date"}}},
 "mark":{"type":"rule","color":"#8c8c8c","strokeWidth":1,"strokeDash":[3,3]},
 "encoding":{"x":{"field":"t","type":"temporal","scale":{"domain":[{"year":2025,"month":4,"date":15,"hours":6,"minutes":27,"seconds":46},{"year":2025,"month":4,"date":15,"hours":10,"minutes":53,"seconds":17}]},"axis":null},"x2":{"field":"t2"},"y":{"field":"p","type":"quantitative","scale":{"domain":[18730.26,18845.45],"nice":false,"zero":false},"axis":null},"y2":{"field":"p2"}}},
{"data":{"values":[{"t":"2025-04-15T08:38:00","p":18745.5,"label":"Buy 5 @ 18,759.80"}]},
 "mark":{"type":"point","shape":"arrow","filled":true,"size":170,"color":"#2962ff","opacity":1},
 "encoding":{"x":{"field":"t","type":"temporal","scale":{"domain":[{"year":2025,"month":4,"date":15,"hours":6,"minutes":27,"seconds":46},{"year":2025,"month":4,"date":15,"hours":10,"minutes":53,"seconds":17}]},"axis":null},"y":{"field":"p","type":"quantitative","scale":{"domain":[18730.26,18845.45],"nice":false,"zero":false},"axis":null}}},
{"data":{"values":[{"t":"2025-04-15T08:38:00","p":18745.5,"label":"Buy 5 @ 18,759.80"}]},
 "mark":{"type":"text","fontSize":8,"color":"#3a3a3a","baseline":"middle","dy":12},
 "encoding":{"x":{"field":"t","type":"temporal","scale":{"domain":[{"year":2025,"month":4,"date":15,"hours":6,"minutes":27,"seconds":46},{"year":2025,"month":4,"date":15,"hours":10,"minutes":53,"seconds":17}]},"axis":null},"y":{"field":"p","type":"quantitative","scale":{"domain":[18730.26,18845.45],"nice":false,"zero":false},"axis":null},"text":{"field":"label"}}},
{"data":{"values":[{"t":"2025-04-15T08:54:00","p":18792.5,"label":"Sell 2 @ 18,790.40"},{"t":"2025-04-15T09:09:00","p":18819.4,"label":"Sell 1 @ 18,812.90"}]},
 "mark":{"type":"point","shape":"arrow","angle":180,"filled":true,"size":170,"color":"#f23645","opacity":1},
 "encoding":{"x":{"field":"t","type":"temporal","scale":{"domain":[{"year":2025,"month":4,"date":15,"hours":6,"minutes":27,"seconds":46},{"year":2025,"month":4,"date":15,"hours":10,"minutes":53,"seconds":17}]},"axis":null},"y":{"field":"p","type":"quantitative","scale":{"domain":[18730.26,18845.45],"nice":false,"zero":false},"axis":null}}},
{"data":{"values":[{"t":"2025-04-15T08:54:00","p":18792.5,"label":"Sell 2 @ 18,790.40"},{"t":"2025-04-15T09:09:00","p":18819.4,"label":"Sell 1 @ 18,812.90"}]},
 "mark":{"type":"text","fontSize":8,"color":"#e8e8e8","baseline":"middle","dy":-13},
 "encoding":{"x":{"field":"t","type":"temporal","scale":{"domain":[{"year":2025,"month":4,"date":15,"hours":6,"minutes":27,"seconds":46},{"year":2025,"month":4,"date":15,"hours":10,"minutes":53,"seconds":17}]},"axis":null},"y":{"field":"p","type":"quantitative","scale":{"domain":[18730.26,18845.45],"nice":false,"zero":false},"axis":null},"text":{"field":"label"}}},
{"data":{"values":[{"t":"2025-04-15T10:41:45","p":18790.15,"label":"0.75 (18,790.15)"}]},
 "mark":{"type":"text","fontSize":8,"color":"#2962ff","align":"right","baseline":"middle"},
 "encoding":{"x":{"field":"t","type":"temporal","scale":{"domain":[{"year":2025,"month":4,"date":15,"hours":6,"minutes":27,"seconds":46},{"year":2025,"month":4,"date":15,"hours":10,"minutes":53,"seconds":17}]},"axis":null},"y":{"field":"p","type":"quantitative","scale":{"domain":[18730.26,18845.45],"nice":false,"zero":false},"axis":null},"text":{"field":"label"}}},
{"data":{"values":[{"t":"2025-04-15T10:41:45","p":18752.8,"label":"(18,752.80)"}]},
 "mark":{"type":"text","fontSize":8,"color":"#7e57c2","opacity":0.55,"align":"right","baseline":"middle"},
 "encoding":{"x":{"field":"t","type":"temporal","scale":{"domain":[{"year":2025,"month":4,"date":15,"hours":6,"minutes":27,"seconds":46},{"year":2025,"month":4,"date":15,"hours":10,"minutes":53,"seconds":17}]},"axis":null},"y":{"field":"p","type":"quantitative","scale":{"domain":[18730.26,18845.45],"nice":false,"zero":false},"axis":null},"text":{"field":"label"}}},
{"data":{"values":[{"t":"2025-04-15T10:41:45","p":18782.4,"label":"8.45"},{"t":"2025-04-15T10:41:45","p":18752.8,"label":"Current daily open"},{"t":"2025-04-15T10:41:45","p":18750.3,"label":"8 Opening Price"}]},
 "mark":{"type":"text","fontSize":8,"fontStyle":"italic","fontWeight":"bold","color":"#222222","align":"right","baseline":"middle"},
 "encoding":{"x":{"field":"t","type":"temporal","scale":{"domain":[{"year":2025,"month":4,"date":15,"hours":6,"minutes":27,"seconds":46},{"year":2025,"month":4,"date":15,"hours":10,"minutes":53,"seconds":17}]},"axis":null},"y":{"field":"p","type":"quantitative","scale":{"domain":[18730.26,18845.45],"nice":false,"zero":false},"axis":null},"text":{"field":"label"}}},
{"data":{"values":[{"t":"2025-04-15T10:41:45","p":18827.46,"label":"(18,827.50)"}]},
 "mark":{"type":"text","fontSize":8,"color":"#222222","align":"right","baseline":"middle"},
 "encoding":{"x":{"field":"t","type":"temporal","scale":{"domain":[{"year":2025,"month":4,"date":15,"hours":6,"minutes":27,"seconds":46},{"year":2025,"month":4,"date":15,"hours":10,"minutes":53,"seconds":17}]},"axis":null},"y":{"field":"p","type":"quantitative","scale":{"domain":[18730.26,18845.45],"nice":false,"zero":false},"axis":null},"text":{"field":"label"}}},
{"data":{"values":[{"t":"2025-04-15T10:23:30","p":18761.02}]},
 "mark":{"type":"tick","orient":"horizontal","size":86,"thickness":12,"fill":"#ffffff","stroke":"#f5a623","strokeWidth":1,"opacity":1},
 "encoding":{"x":{"field":"t","type":"temporal","scale":{"domain":[{"year":2025,"month":4,"date":15,"hours":6,"minutes":27,"seconds":46},{"year":2025,"month":4,"date":15,"hours":10,"minutes":53,"seconds":17}]},"axis":null},"y":{"field":"p","type":"quantitative","scale":{"domain":[18730.26,18845.45],"nice":false,"zero":false},"axis":null}}},
{"data":{"values":[{"t":"2025-04-15T10:15:40","p":18761.02,"label":"2"},{"t":"2025-04-15T10:23:30","p":18761.02,"label":"+2.68 USD"},{"t":"2025-04-15T10:31:34","p":18761.02,"label":"×"}]},
 "mark":{"type":"text","fontSize":8.5,"color":"#f5a623","baseline":"middle"},
 "encoding":{"x":{"field":"t","type":"temporal","scale":{"domain":[{"year":2025,"month":4,"date":15,"hours":6,"minutes":27,"seconds":46},{"year":2025,"month":4,"date":15,"hours":10,"minutes":53,"seconds":17}]},"axis":null},"y":{"field":"p","type":"quantitative","scale":{"domain":[18730.26,18845.45],"nice":false,"zero":false},"axis":null},"text":{"field":"label"}}},
{"data":{"values":[{"t":"2025-04-15T10:22:57","p":18827.46,"kind":"teal"},{"t":"2025-04-15T10:22:57","p":18759.8,"kind":"blue"}]},
 "mark":{"type":"tick","orient":"horizontal","size":93,"thickness":12,"fill":"#ffffff","strokeWidth":1.2,"opacity":1},
 "encoding":{"x":{"field":"t","type":"temporal","scale":{"domain":[{"year":2025,"month":4,"date":15,"hours":6,"minutes":27,"seconds":46},{"year":2025,"month":4,"date":15,"hours":10,"minutes":53,"seconds":17}]},"axis":null},"y":{"field":"p","type":"quantitative","scale":{"domain":[18730.26,18845.45],"nice":false,"zero":false},"axis":null},
  "stroke":{"field":"kind","type":"nominal","scale":{"domain":["teal","blue"],"range":["#26a69a","#2962ff"]},"legend":null}}},
{"data":{"values":[{"t":"2025-04-15T10:14:05","p":18759.8}]},
 "mark":{"type":"tick","orient":"horizontal","size":14,"thickness":12,"fill":"#2962ff","stroke":"#2962ff","opacity":1},
 "encoding":{"x":{"field":"t","type":"temporal","scale":{"domain":[{"year":2025,"month":4,"date":15,"hours":6,"minutes":27,"seconds":46},{"year":2025,"month":4,"date":15,"hours":10,"minutes":53,"seconds":17}]},"axis":null},"y":{"field":"p","type":"quantitative","scale":{"domain":[18730.26,18845.45],"nice":false,"zero":false},"axis":null}}},
{"data":{"values":[{"t":"2025-04-15T10:14:05","p":18827.46,"label":"2"},{"t":"2025-04-15T10:21:16","p":18827.46,"label":"+135.32 USD"},{"t":"2025-04-15T10:31:34","p":18827.46,"label":"×"},{"t":"2025-04-15T10:21:16","p":18759.8,"label":"+122.80 USD"}]},
 "mark":{"type":"text","fontSize":8.5,"color":"#26a69a","baseline":"middle"},
 "encoding":{"x":{"field":"t","type":"temporal","scale":{"domain":[{"year":2025,"month":4,"date":15,"hours":6,"minutes":27,"seconds":46},{"year":2025,"month":4,"date":15,"hours":10,"minutes":53,"seconds":17}]},"axis":null},"y":{"field":"p","type":"quantitative","scale":{"domain":[18730.26,18845.45],"nice":false,"zero":false},"axis":null},"text":{"field":"label"}}},
{"data":{"values":[{"t":"2025-04-15T10:14:05","p":18759.8,"label":"2"}]},
 "mark":{"type":"text","fontSize":8.5,"color":"#ffffff","baseline":"middle"},
 "encoding":{"x":{"field":"t","type":"temporal","scale":{"domain":[{"year":2025,"month":4,"date":15,"hours":6,"minutes":27,"seconds":46},{"year":2025,"month":4,"date":15,"hours":10,"minutes":53,"seconds":17}]},"axis":null},"y":{"field":"p","type":"quantitative","scale":{"domain":[18730.26,18845.45],"nice":false,"zero":false},"axis":null},"text":{"field":"label"}}},
{"data":{"values":[{"t":"2025-04-15T10:31:34","p":18759.8,"label":"×"}]},
 "mark":{"type":"text","fontSize":8.5,"color":"#2962ff","baseline":"middle"},
 "encoding":{"x":{"field":"t","type":"temporal","scale":{"domain":[{"year":2025,"month":4,"date":15,"hours":6,"minutes":27,"seconds":46},{"year":2025,"month":4,"date":15,"hours":10,"minutes":53,"seconds":17}]},"axis":null},"y":{"field":"p","type":"quantitative","scale":{"domain":[18730.26,18845.45],"nice":false,"zero":false},"axis":null},"text":{"field":"label"}}},
{"data":{"values":[{"t":"2025-04-15T10:42:59","p":18730.26,"p2":18845.45}]},
 "mark":{"type":"rule","color":"#4a4a4a","strokeWidth":1},
 "encoding":{"x":{"field":"t","type":"temporal","scale":{"domain":[{"year":2025,"month":4,"date":15,"hours":6,"minutes":27,"seconds":46},{"year":2025,"month":4,"date":15,"hours":10,"minutes":53,"seconds":17}]},"axis":null},"y":{"field":"p","type":"quantitative","scale":{"domain":[18730.26,18845.45],"nice":false,"zero":false},"axis":null},"y2":{"field":"p2"}}},
{"data":{"values":[
  {"t":"2025-04-15T10:47:55","p":18829.82,"label":"18,827.46","kind":"posOutline"},
  {"t":"2025-04-15T10:47:55","p":18827.36,"label":"18,827.46","kind":"pos"},
  {"t":"2025-04-15T10:47:55","p":18824.83,"label":"18,823.20","kind":"ask"},
  {"t":"2025-04-15T10:47:55","p":18822.48,"label":"18,821.20","kind":"bid"},
  {"t":"2025-04-15T10:47:55","p":18782.38,"label":"18,782.40","kind":"red"},
  {"t":"2025-04-15T10:47:55","p":18761.02,"label":"18,761.14","kind":"orangeOutline"},
  {"t":"2025-04-15T10:47:55","p":18758.73,"label":"18,759.80","kind":"gray"},
  {"t":"2025-04-15T10:47:55","p":18756.42,"label":"18,759.80","kind":"blue"},
  {"t":"2025-04-15T10:47:55","p":18752.68,"label":"18,752.80","kind":"black"},
  {"t":"2025-04-15T10:47:55","p":18750.14,"label":"18,750.30","kind":"amber"},
  {"t":"2025-04-15T10:47:55","p":18741.72,"label":"18,741.80","kind":"black"}]},
 "mark":{"type":"tick","orient":"horizontal","size":45,"thickness":10.5,"strokeWidth":1,"opacity":1},
 "encoding":{"x":{"field":"t","type":"temporal","scale":{"domain":[{"year":2025,"month":4,"date":15,"hours":6,"minutes":27,"seconds":46},{"year":2025,"month":4,"date":15,"hours":10,"minutes":53,"seconds":17}]},"axis":null},"y":{"field":"p","type":"quantitative","scale":{"domain":[18730.26,18845.45],"nice":false,"zero":false},"axis":null},
  "fill":{"field":"kind","type":"nominal","scale":{"domain":["posOutline","pos","ask","bid","red","orangeOutline","gray","blue","black","amber"],"range":["#ffffff","#0f5b4b","#f23645","#2962ff","#8b1d24","#ffffff","#7f7f7f","#2962ff","#101010","#f5b800"]},"legend":null},
  "stroke":{"field":"kind","type":"nominal","scale":{"domain":["posOutline","pos","ask","bid","red","orangeOutline","gray","blue","black","amber"],"range":["#26a69a","#0f5b4b","#f23645","#2962ff","#8b1d24","#f5a623","#7f7f7f","#2962ff","#101010","#f5b800"]},"legend":null}}},
{"data":{"values":[
  {"t":"2025-04-15T10:47:48","p":18829.82,"label":"18,827.46","kind":"posOutline"},
  {"t":"2025-04-15T10:47:48","p":18827.36,"label":"18,827.46","kind":"pos"},
  {"t":"2025-04-15T10:47:48","p":18824.83,"label":"18,823.20","kind":"ask"},
  {"t":"2025-04-15T10:47:48","p":18822.48,"label":"18,821.20","kind":"bid"},
  {"t":"2025-04-15T10:47:48","p":18782.38,"label":"18,782.40","kind":"red"},
  {"t":"2025-04-15T10:47:48","p":18761.02,"label":"18,761.14","kind":"orangeOutline"},
  {"t":"2025-04-15T10:47:48","p":18758.73,"label":"18,759.80","kind":"gray"},
  {"t":"2025-04-15T10:47:48","p":18756.42,"label":"18,759.80","kind":"blue"},
  {"t":"2025-04-15T10:47:48","p":18752.68,"label":"18,752.80","kind":"black"},
  {"t":"2025-04-15T10:47:48","p":18750.14,"label":"18,750.30","kind":"amber"},
  {"t":"2025-04-15T10:47:48","p":18741.72,"label":"18,741.80","kind":"black"}]},
 "mark":{"type":"text","fontSize":8.5,"baseline":"middle","align":"center"},
 "encoding":{"x":{"field":"t","type":"temporal","scale":{"domain":[{"year":2025,"month":4,"date":15,"hours":6,"minutes":27,"seconds":46},{"year":2025,"month":4,"date":15,"hours":10,"minutes":53,"seconds":17}]},"axis":null},"y":{"field":"p","type":"quantitative","scale":{"domain":[18730.26,18845.45],"nice":false,"zero":false},"axis":null},"text":{"field":"label"},
  "color":{"field":"kind","type":"nominal","scale":{"domain":["posOutline","pos","ask","bid","red","orangeOutline","gray","blue","black","amber"],"range":["#26a69a","#ffffff","#ffffff","#ffffff","#ffffff","#f5a623","#ffffff","#ffffff","#ffffff","#1a1a1a"]},"legend":null}}},
{"data":{"values":[{"t":"2025-04-15T10:40:58","p":18824.83,"label":"Ask","kind":"ask"},{"t":"2025-04-15T10:40:58","p":18822.48,"label":"Bid","kind":"bid"}]},
 "mark":{"type":"tick","orient":"horizontal","size":17,"thickness":10.5,"opacity":1},
 "encoding":{"x":{"field":"t","type":"temporal","scale":{"domain":[{"year":2025,"month":4,"date":15,"hours":6,"minutes":27,"seconds":46},{"year":2025,"month":4,"date":15,"hours":10,"minutes":53,"seconds":17}]},"axis":null},"y":{"field":"p","type":"quantitative","scale":{"domain":[18730.26,18845.45],"nice":false,"zero":false},"axis":null},
  "fill":{"field":"kind","type":"nominal","scale":{"domain":["ask","bid"],"range":["#f23645","#2962ff"]},"legend":null},
  "stroke":{"field":"kind","type":"nominal","scale":{"domain":["ask","bid"],"range":["#f23645","#2962ff"]},"legend":null}}},
{"data":{"values":[{"t":"2025-04-15T10:40:58","p":18824.83,"label":"Ask"},{"t":"2025-04-15T10:40:58","p":18822.48,"label":"Bid"}]},
 "mark":{"type":"text","fontSize":8,"fontWeight":"bold","color":"#ffffff","baseline":"middle","align":"center"},
 "encoding":{"x":{"field":"t","type":"temporal","scale":{"domain":[{"year":2025,"month":4,"date":15,"hours":6,"minutes":27,"seconds":46},{"year":2025,"month":4,"date":15,"hours":10,"minutes":53,"seconds":17}]},"axis":null},"y":{"field":"p","type":"quantitative","scale":{"domain":[18730.26,18845.45],"nice":false,"zero":false},"axis":null},"text":{"field":"label"}}},
{"data":{"values":[{"t":"2025-04-15T10:47:55","p":18819.19}]},
 "mark":{"type":"tick","orient":"horizontal","size":45,"thickness":19.5,"fill":"#7dbd7d","stroke":"#7dbd7d","opacity":1},
 "encoding":{"x":{"field":"t","type":"temporal","scale":{"domain":[{"year":2025,"month":4,"date":15,"hours":6,"minutes":27,"seconds":46},{"year":2025,"month":4,"date":15,"hours":10,"minutes":53,"seconds":17}]},"axis":null},"y":{"field":"p","type":"quantitative","scale":{"domain":[18730.26,18845.45],"nice":false,"zero":false},"axis":null}}},
{"data":{"values":[{"t":"2025-04-15T10:44:06","p":18820.21,"label":"18,820.40"},{"t":"2025-04-15T10:44:06","p":18818.19,"label":"00:07"}]},
 "mark":{"type":"text","fontSize":8.5,"color":"#111111","baseline":"middle","align":"left"},
 "encoding":{"x":{"field":"t","type":"temporal","scale":{"domain":[{"year":2025,"month":4,"date":15,"hours":6,"minutes":27,"seconds":46},{"year":2025,"month":4,"date":15,"hours":10,"minutes":53,"seconds":17}]},"axis":null},"y":{"field":"p","type":"quantitative","scale":{"domain":[18730.26,18845.45],"nice":false,"zero":false},"axis":null},"text":{"field":"label"}}},
{"data":{"values":[{"t":"2025-04-15T06:27:46","p":18846.94,"label":"Nqmohvmed33 published on TradingView.com, Apr 15, 2025 09:10 UTC-4"}]},
 "mark":{"type":"text","fontSize":8.5,"color":"#e6e6e6","baseline":"middle","align":"left","dx":1},
 "encoding":{"x":{"field":"t","type":"temporal","scale":{"domain":[{"year":2025,"month":4,"date":15,"hours":6,"minutes":27,"seconds":46},{"year":2025,"month":4,"date":15,"hours":10,"minutes":53,"seconds":17}]},"axis":null},"y":{"field":"p","type":"quantitative","scale":{"domain":[18730.26,18845.45],"nice":false,"zero":false},"axis":null},"text":{"field":"label"}}},
{"data":{"values":[{"t":"2025-04-15T06:28:00","p":18727.93,"label":"TV"}]},
 "mark":{"type":"text","fontSize":10,"fontWeight":900,"color":"#f0f0f0","baseline":"middle","align":"left"},
 "encoding":{"x":{"field":"t","type":"temporal","scale":{"domain":[{"year":2025,"month":4,"date":15,"hours":6,"minutes":27,"seconds":46},{"year":2025,"month":4,"date":15,"hours":10,"minutes":53,"seconds":17}]},"axis":null},"y":{"field":"p","type":"quantitative","scale":{"domain":[18730.26,18845.45],"nice":false,"zero":false},"axis":null},"text":{"field":"label"}}},
{"data":{"values":[{"t":"2025-04-15T06:31:00","p":18727.93,"label":"TradingView"}]},
 "mark":{"type":"text","fontSize":9,"color":"#d9d9d9","baseline":"middle","align":"left"},
 "encoding":{"x":{"field":"t","type":"temporal","scale":{"domain":[{"year":2025,"month":4,"date":15,"hours":6,"minutes":27,"seconds":46},{"year":2025,"month":4,"date":15,"hours":10,"minutes":53,"seconds":17}]},"axis":null},"y":{"field":"p","type":"quantitative","scale":{"domain":[18730.26,18845.45],"nice":false,"zero":false},"axis":null},"text":{"field":"label"}}}
]
}
